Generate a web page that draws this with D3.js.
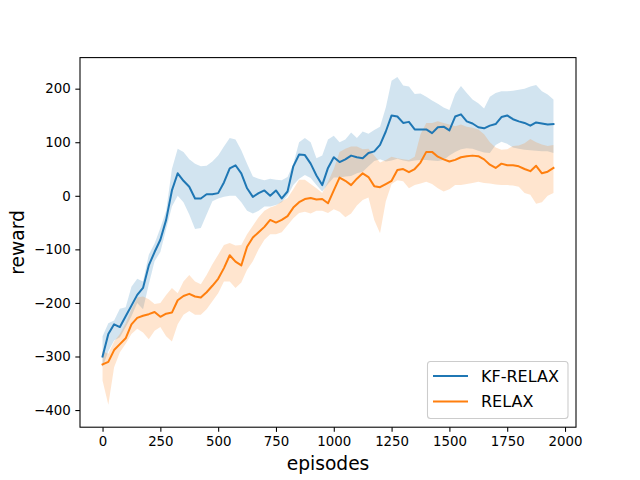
<!DOCTYPE html>
<html>
<head>
<meta charset="utf-8">
<script src="https://cdn.jsdelivr.net/npm/d3@7"></script>
<style>
  html, body { margin: 0; padding: 0; background: #fff; }
  svg { display: block; font-family: "DejaVu Sans", sans-serif; }
</style>
</head>
<body>
<svg id="chart" width="640" height="480"></svg>
<script>
// ---- data ----
const episodes = [0,25,50,75,100,125,150,175,200,225,250,275,300,325,350,375,400,425,450,475,
  500,525,550,575,600,625,650,675,700,725,750,775,800,825,850,875,900,925,950,975,
  1000,1025,1050,1075,1100,1125,1150,1175,1200,1225,1250,1275,1300,1325,1350,1375,1400,1425,1450,1475,
  1500,1525,1550,1575,1600,1625,1650,1675,1700,1725,1750,1775,1800,1825,1850,1875,1900,1925,1950];

const kfMean = [-300,-258,-240,-245,-225,-205,-185,-172,-130,-105,-82,-45,10,42,28,17,-5,-5,3,3,
  5,25,51,57,42,14,-2,5,10,0,10,-5,8,55,77,76,60,38,20,52,
  72,63,68,75,72,70,80,83,95,120,150,148,136,138,124,124,124,117,128,129,
  122,148,152,139,135,128,126,131,134,147,150,143,139,136,131,137,135,133,134];
const kfUpper = [-262,-238,-233,-211,-208,-170,-155,-160,-110,-89,-60,-28,50,88,82,68,60,55,56,64,
  75,92,108,105,85,60,36,32,29,32,30,29,35,60,100,108,100,70,75,105,
  112,100,105,118,108,120,116,123,129,165,215,222,206,204,190,191,185,178,172,165,
  160,190,205,192,180,173,163,185,192,195,195,196,198,200,204,207,195,189,180];
const kfLower = [-320,-290,-270,-264,-245,-225,-200,-212,-165,-122,-105,-62,-20,0,-12,-35,-62,-60,-35,-10,
  -5,-2,0,0,-12,-28,-33,-28,-20,-20,-17,-12,0,20,32,39,33,20,8,22,
  34,34,36,37,42,45,55,65,68,64,66,69,66,64,66,67,67,66,65,67,
  75,82,87,89,88,84,81,80,95,101,97,90,88,86,85,84,83,83,80];

const relaxMean = [-315,-310,-288,-277,-266,-240,-228,-224,-221,-217,-226,-220,-218,-195,-187,-183,-188,-190,-180,-168,
  -155,-135,-111,-123,-130,-95,-78,-68,-58,-45,-50,-45,-38,-22,-12,-6,-4,-7,-6,-14,
  10,34,28,20,32,42,35,18,16,22,28,48,50,44,50,62,82,82,73,68,
  64,67,72,74,75,74,68,58,52,60,57,57,55,50,46,56,42,45,52];
const relaxUpper = [-290,-295,-272,-258,-238,-212,-190,-188,-193,-202,-200,-185,-172,-182,-160,-148,-160,-165,-148,-128,
  -110,-92,-88,-93,-92,-72,-56,-40,-28,-22,-18,-10,-4,12,30,30,22,14,5,26,
  50,82,88,92,92,87,88,75,62,67,73,70,68,67,73,115,136,136,139,136,
  133,130,133,129,127,124,115,100,90,86,87,93,94,98,106,100,96,93,95];
const relaxLower = [-345,-390,-320,-292,-276,-258,-248,-255,-268,-252,-245,-262,-272,-240,-222,-215,-222,-222,-212,-197,
  -182,-160,-160,-172,-162,-138,-122,-100,-82,-72,-72,-68,-55,-42,-32,-30,-33,-28,-28,-32,
  -25,-30,-40,-33,-18,-8,-3,-45,-70,-10,22,29,27,14,20,23,26,22,14,8,
  12,20,20,22,24,26,24,23,21,20,20,19,17,5,2,-15,-12,0,5];

const seriesNames = ["KF-RELAX", "RELAX"];
const seriesColors = ["#1f77b4", "#ff7f0e"];
const xTicks = [0,250,500,750,1000,1250,1500,1750,2000];
const yTicks = [-400,-300,-200,-100,0,100,200];
const xLabel = "episodes";
const yLabel = "reward";

// ---- layout ----
const W = 640, H = 480;
const L = 80, R = 576, T = 57.6, B = 427.2;

const svg = d3.select("#chart");
const x = d3.scaleLinear().domain([-97.5, 2047.5]).range([L, R]);
const y = d3.scaleLinear().domain([-432, 258]).range([B, T]);

const series = [
  {name: seriesNames[0], color: seriesColors[0], mean: kfMean, lo: kfLower, hi: kfUpper},
  {name: seriesNames[1], color: seriesColors[1], mean: relaxMean, lo: relaxLower, hi: relaxUpper}
];

const area = d3.area()
  .x((d, i) => x(episodes[i]))
  .y0(d => y(d[0]))
  .y1(d => y(d[1]));
const line = d3.line()
  .x((d, i) => x(episodes[i]))
  .y(d => y(d));

const plot = svg.append("g");
// fills first (below lines)
series.forEach(s => {
  const pairs = episodes.map((e, i) => [s.lo[i], s.hi[i]]);
  plot.append("path")
    .attr("d", area(pairs))
    .attr("fill", s.color)
    .attr("fill-opacity", 0.2)
    .attr("stroke", "none");
});
series.forEach(s => {
  plot.append("path")
    .attr("d", line(s.mean))
    .attr("fill", "none")
    .attr("stroke", s.color)
    .attr("stroke-width", 2)
    .attr("stroke-linejoin", "round")
    .attr("stroke-linecap", "square");
});

// ---- axes ----
const fmt = v => (v < 0 ? "\u2212" + Math.abs(v) : String(v));
const xAxis = d3.axisBottom(x).tickValues(xTicks).tickSize(4.67).tickPadding(4.67).tickFormat(fmt);
const yAxis = d3.axisLeft(y).tickValues(yTicks).tickSize(4.67).tickPadding(4.67).tickFormat(fmt);

const gx = svg.append("g").attr("transform", `translate(0,${B})`).call(xAxis);
const gy = svg.append("g").attr("transform", `translate(${L},0)`).call(yAxis);
[gx, gy].forEach(g => {
  g.select(".domain").remove();
  g.selectAll(".tick line").attr("stroke", "#000").attr("stroke-width", 1.07);
  g.selectAll(".tick text").attr("fill", "#000")
    .style("font-family", "DejaVu Sans").style("font-size", "13.33px");
});

// spines
svg.append("rect")
  .attr("x", L).attr("y", T).attr("width", R - L).attr("height", B - T)
  .attr("fill", "none").attr("stroke", "#000").attr("stroke-width", 1.07);

// axis labels
svg.append("text")
  .attr("x", (L + R) / 2).attr("y", 470)
  .attr("text-anchor", "middle")
  .style("font-size", "18.67px")
  .text(xLabel);
svg.append("text")
  .attr("transform", `translate(24,${(T + B) / 2}) rotate(-90)`)
  .attr("text-anchor", "middle")
  .style("font-size", "18.67px")
  .text(yLabel);

// legend
const lg = svg.append("g");
lg.append("rect")
  .attr("x", 427.5).attr("y", 361.5).attr("width", 140.5).attr("height", 57)
  .attr("rx", 3).attr("ry", 3)
  .attr("fill", "#fff").attr("fill-opacity", 0.8)
  .attr("stroke", "#cccccc").attr("stroke-width", 1.07);
series.forEach((s, i) => {
  const cy = 376 + i * 25.5;
  lg.append("line")
    .attr("x1", 433).attr("x2", 468).attr("y1", cy).attr("y2", cy)
    .attr("stroke", s.color).attr("stroke-width", 2);
  lg.append("text")
    .attr("x", 481).attr("y", cy + 5.8)
    .style("font-size", "16px")
    .text(s.name);
});
</script>
</body>
</html>
